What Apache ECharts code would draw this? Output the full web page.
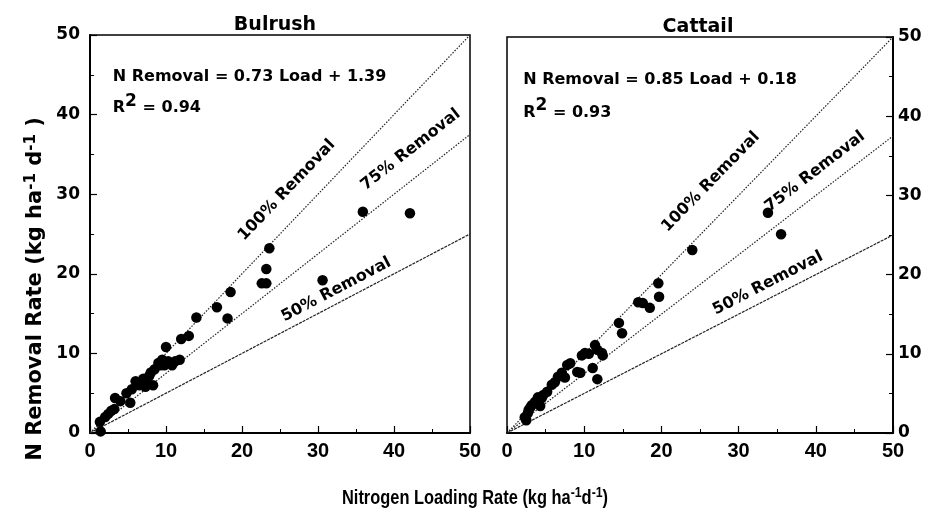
<!DOCTYPE html>
<html>
<head>
<meta charset="utf-8">
<script src="https://cdn.jsdelivr.net/npm/echarts@6/dist/echarts.min.js"></script>
<style>
  html, body { margin: 0; padding: 0; background: #fff; }
  #chart { width: 929px; height: 515px; }
</style>
</head>
<body>
<div id="chart"></div>
<script>
// Bulrush panel (load, removal) in kg ha-1 d-1
const bulrushLoad    = [1.4, 1.3, 2.0, 2.4, 2.8, 3.2, 3.3, 4.0, 4.8, 5.3, 5.5, 6.0, 6.5, 7.0, 7.3, 7.5, 7.8, 8.0, 8.3, 8.5, 9.0, 9.3, 9.5, 9.8, 10.0, 10.3, 10.8, 11.2, 11.8, 12.0, 13.0, 14.0, 16.7, 18.1, 18.5, 22.6, 23.2, 23.2, 23.6, 30.6, 35.9, 42.1];
const bulrushRemoval = [0.2, 1.4, 2.0, 2.4, 2.8, 3.0, 4.4, 4.0, 5.0, 3.8, 5.5, 6.5, 6.0, 6.8, 5.8, 6.3, 7.2, 7.6, 6.0, 8.0, 8.8, 8.5, 9.2, 8.5, 10.8, 9.0, 8.5, 9.0, 9.2, 11.8, 12.2, 14.5, 15.8, 14.4, 17.7, 18.8, 18.8, 20.6, 23.2, 19.2, 27.8, 27.6];

// Cattail panel
const cattailLoad    = [2.5, 2.3, 2.7, 2.8, 3.0, 3.2, 3.6, 4.0, 4.3, 4.5, 4.7, 5.2, 5.8, 6.2, 6.6, 7.1, 7.5, 7.8, 8.2, 9.1, 9.5, 9.7, 10.1, 10.6, 11.1, 11.4, 11.7, 11.7, 12.3, 12.4, 14.5, 14.9, 17.0, 17.6, 18.5, 19.6, 19.7, 24.0, 33.8, 35.5];
const cattailRemoval = [1.6, 2.0, 2.5, 2.9, 3.2, 3.5, 3.9, 4.5, 3.4, 4.4, 4.8, 5.2, 6.1, 6.4, 7.1, 7.6, 7.0, 8.6, 8.8, 7.7, 7.6, 9.8, 10.1, 10.0, 8.2, 11.1, 10.5, 6.8, 10.1, 9.8, 13.9, 12.6, 16.5, 16.4, 15.8, 18.9, 17.2, 23.1, 27.8, 25.1];

const panelTitles = ['Bulrush', 'Cattail'];
const equations = ['N Removal = 0.73 Load + 1.39', 'N Removal = 0.85 Load + 0.18'];
const rSquared = ['0.94', '0.93'];
const removalFractions = [1.0, 0.75, 0.5];
const removalLabels = ['100% Removal', '75% Removal', '50% Removal'];
// label anchor points (data coords) for each panel
const removalLabelPos = [
  [[25.9, 30.5], [42.2, 35.6], [32.4, 18.0]],
  [[26.4, 31.7], [39.9, 33.0], [33.8, 18.9]]
];
const equationPos = [[[3.0, 44.7], [3.0, 41.3]], [[2.1, 44.6], [2.1, 40.9]]];
const axisMin = 0, axisMax = 50, axisStep = 10;

const WIDE = '"DejaVu Sans", Verdana, sans-serif';
const ARIAL = '"Liberation Sans", Arial, sans-serif';
const zip = (a, b) => a.map((v, i) => [v, b[i]]);

const grids = [
  { left: 90, top: 35, width: 380, height: 398 },
  { left: 507, top: 37, width: 386, height: 396 }
];

const axisCommon = {
  type: 'value',
  min: axisMin, max: axisMax, interval: axisStep,
  axisLine: { show: true, onZero: false, lineStyle: { color: '#000', width: 2 } },
  axisTick: { show: true, inside: true, length: 7, lineStyle: { color: '#000', width: 1.2 } },
  minorTick: { show: true, splitNumber: 2, length: 4, lineStyle: { color: '#000', width: 1 } },
  splitLine: { show: false }
};

const xAxes = [], yAxes = [], series = [];
grids.forEach((g, p) => {
  xAxes.push(Object.assign({}, axisCommon, {
    gridIndex: p, position: 'bottom',
    axisLabel: { color: '#000', fontFamily: ARIAL, fontWeight: 'bold', fontSize: 20, margin: 8 }
  }));
  yAxes.push(Object.assign({}, axisCommon, {
    gridIndex: p, position: p === 0 ? 'left' : 'right',
    axisLabel: { color: '#000', fontFamily: WIDE, fontWeight: 'bold', fontSize: 17, margin: p === 0 ? 10 : 5 }
  }));

  // reference removal lines
  removalFractions.forEach((f, i) => {
    series.push({
      type: 'line', xAxisIndex: p, yAxisIndex: p, silent: true, symbol: 'none',
      data: [[axisMin, axisMin * f], [axisMax, axisMax * f]],
      lineStyle: { color: '#222', width: 1.2, type: i === 2 ? [3, 1] : [1.5, 1.5] },
      z: 2
    });
  });

  // line labels
  const sx = g.width / (axisMax - axisMin), sy = g.height / (axisMax - axisMin);
  removalFractions.forEach((f, i) => {
    const ang = Math.atan(f * sy / sx) * 180 / Math.PI;
    series.push({
      type: 'scatter', xAxisIndex: p, yAxisIndex: p, silent: true, symbolSize: 0,
      data: [removalLabelPos[p][i]],
      itemStyle: { opacity: 1 },
      label: {
        show: true, position: 'inside', rotate: ang, formatter: removalLabels[i],
        color: '#000', fontFamily: WIDE, fontWeight: 'bold', fontSize: 16,
        align: 'center', verticalAlign: 'middle'
      }
    });
  });

  // measured points
  const pts = p === 0 ? zip(bulrushLoad, bulrushRemoval) : zip(cattailLoad, cattailRemoval);
  series.push({
    type: 'scatter', xAxisIndex: p, yAxisIndex: p,
    data: pts, symbol: 'circle', symbolSize: 10.5,
    itemStyle: { color: '#000', opacity: 1 }, z: 5
  });

  // regression equation
  series.push({
    type: 'scatter', xAxisIndex: p, yAxisIndex: p, silent: true, symbolSize: 0,
    data: [equationPos[p][0]],
    itemStyle: { opacity: 1 },
    label: {
      show: true, position: 'right', distance: 0, formatter: equations[p],
      color: '#000', fontFamily: WIDE, fontWeight: 'bold', fontSize: 16, verticalAlign: 'middle'
    }
  });
  series.push({
    type: 'scatter', xAxisIndex: p, yAxisIndex: p, silent: true, symbolSize: 0,
    data: [equationPos[p][1]],
    itemStyle: { opacity: 1 },
    label: {
      show: true, position: 'right', distance: 0,
      formatter: '{n|R}{sup|2}{n| = ' + rSquared[p] + '}',
      color: '#000', rich: {
        n: { fontFamily: WIDE, fontWeight: 'bold', fontSize: 16, color: '#000', verticalAlign: 'bottom' },
        sup: { fontFamily: WIDE, fontWeight: 'bold', fontSize: 17, color: '#000', verticalAlign: 'top', padding: [0, 0, 6, 0] }
      }
    }
  });
});

const chart = echarts.init(document.getElementById('chart'), null, { renderer: 'canvas' });
chart.setOption({
  backgroundColor: '#fff',
  animation: false,
  title: panelTitles.map((t, i) => ({
    text: t,
    left: i === 0 ? 270 : 693, top: i === 0 ? 11 : 13,
    textAlign: 'center',
    textStyle: { fontFamily: WIDE, fontWeight: 'bold', fontSize: 19, color: '#000' }
  })),
  grid: grids.map(g => Object.assign({ show: true, borderColor: '#000', borderWidth: 1.5, backgroundColor: 'transparent' }, g)),
  xAxis: xAxes,
  yAxis: yAxes,
  series: series,
  graphic: [
    {
      type: 'text', x: 35, y: 289, rotation: Math.PI / 2,
      style: {
        text: '{n|N Removal Rate (kg ha}{sup|-1}{n| d}{sup|-1}{n| )}',
        rich: {
          n: { fontFamily: WIDE, fontWeight: 'bold', fontSize: 21, fill: '#000', verticalAlign: 'bottom' },
          sup: { fontFamily: WIDE, fontWeight: 'bold', fontSize: 15, fill: '#000', verticalAlign: 'top', padding: [0, 0, 8, 0] }
        },
        align: 'center', verticalAlign: 'middle', fill: '#000'
      }
    },
    {
      type: 'text', x: 475, y: 497, scaleX: 0.82,
      style: {
        text: '{n|Nitrogen Loading Rate (kg ha}{sup|-1}{n|d}{sup|-1}{n|)}',
        rich: {
          n: { fontFamily: ARIAL, fontWeight: 'bold', fontSize: 20, fill: '#000', verticalAlign: 'bottom' },
          sup: { fontFamily: ARIAL, fontWeight: 'bold', fontSize: 15, fill: '#000', verticalAlign: 'top', padding: [0, 0, 8, 0] }
        },
        align: 'center', verticalAlign: 'middle', fill: '#000'
      }
    }
  ]
});
</script>
</body>
</html>
